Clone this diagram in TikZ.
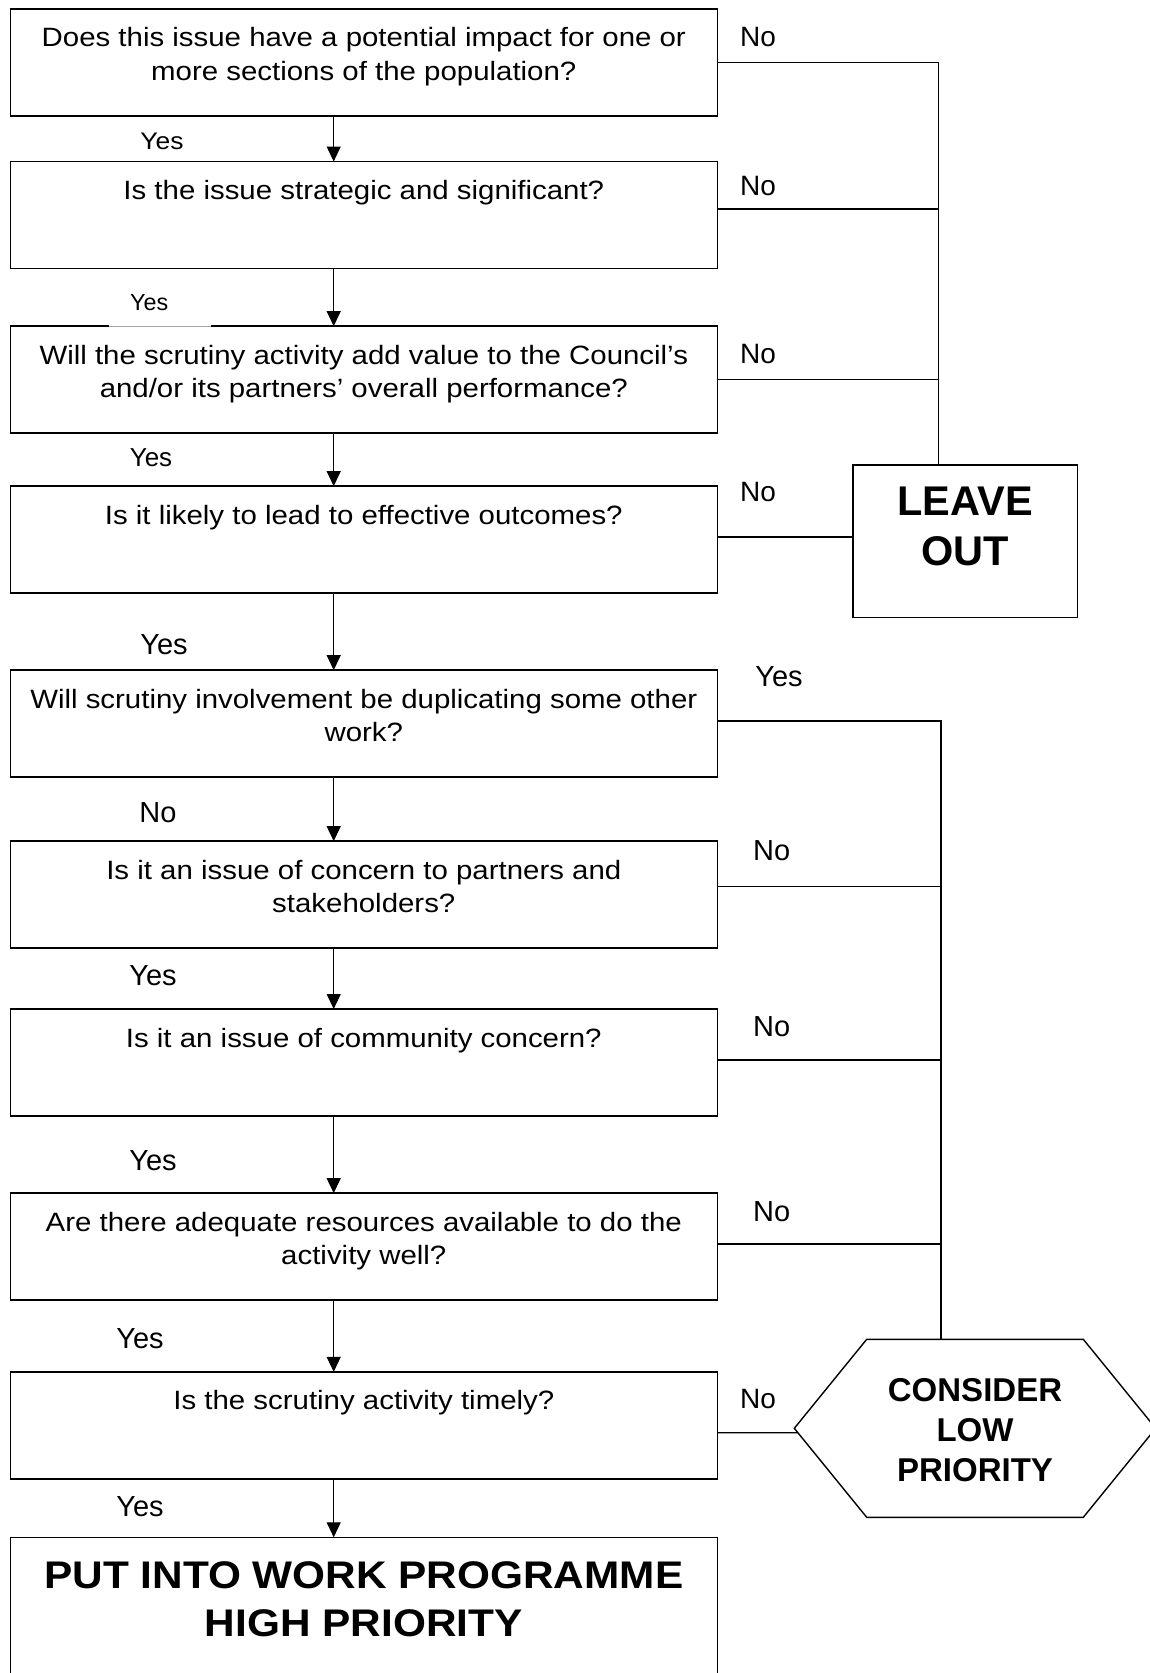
\documentclass[tikz,border=0pt]{standalone}
\usepackage{fontspec}
\setmainfont{Liberation Sans}
\newfontfamily\bodyfont[FakeStretch=1.11]{Liberation Sans}
\newfontfamily\wideboldfont[FakeStretch=1.1]{Liberation Sans}
\newfontfamily\ylabfont[FakeStretch=1.1]{Liberation Sans}
\usetikzlibrary{arrows.meta}
\newcommand\qtext[1]{\parbox[c][107pt][t]{707pt}{\centering\bodyfont\fontsize{26.5}{33.5}\selectfont\rule{0pt}{38pt}#1}}
\tikzset{
  qbox/.style={draw, line width=1.6pt, inner sep=0pt, outer sep=0pt},
  conn/.style={line width=1.2pt},
  arr/.style={line width=1.1pt, -{Triangle[width=14pt,length=15pt]}},
  lbl/.style={anchor=base, inner sep=0pt, font=\fontsize{29}{34}\selectfont},
  lblno/.style={anchor=base, inner sep=0pt, font=\fontsize{28}{34}\selectfont},
}
\begin{document}
\begin{tikzpicture}[x=1pt,y=-1pt]
\useasboundingbox (0,0) rectangle (1150,1673);
\fill[white] (0,0) rectangle (1150,1673);
\clip (0,0) rectangle (1150,1673);

% question boxes
\node[qbox] (box1) at (363.8,62.35) {\qtext{Does this issue have a potential impact for one or\\ more sections of the population?}};
\node[qbox] (box2) at (363.8,215) {\qtext{Is the issue strategic and significant?}};
\node[qbox] (box3) at (363.8,379.65) {\qtext{Will the scrutiny activity add value to the Council’s\\ and/or its partners’ overall performance?}};
\node[qbox] (box4) at (363.8,539.65) {\qtext{Is it likely to lead to effective outcomes?}};
\node[qbox] (box5) at (363.8,723.65) {\qtext{Will scrutiny involvement be duplicating some other\\ work?}};
\node[qbox] (box6) at (363.8,894.65) {\qtext{Is it an issue of concern to partners and\\ stakeholders?}};
\node[qbox] (box7) at (363.8,1062.5) {\qtext{Is it an issue of community concern?}};
\node[qbox] (box8) at (363.8,1246.65) {\qtext{Are there adequate resources available to do the\\ activity well?}};
\node[qbox] (box9) at (363.8,1425.35) {\qtext{Is the scrutiny activity timely?}};

% final box
\node[qbox] (final) at (363.8,1617.3) {\parbox[c][160pt][t]{707pt}{\centering\wideboldfont\bfseries\fontsize{38.5}{48.7}\selectfont\rule{0pt}{50.7pt}PUT INTO WORK PROGRAMME\\HIGH PRIORITY}};

% leave out
\node[qbox] (leave) at (965.2,541) {\parbox[c][152.6pt][t]{224.4pt}{\centering\bfseries\fontsize{41.5}{50}\selectfont\rule{0pt}{50.3pt}LEAVE\\OUT}};

% consider low priority (hexagon)
\node[inner sep=0pt, outer sep=0pt] (hex) at (975,1428.3) {\parbox[c][178pt][t]{361.4pt}{\centering\bfseries\fontsize{33}{40}\selectfont\rule{0pt}{62.4pt}CONSIDER\\LOW\\PRIORITY}};
\draw[line width=1.4pt, line join=miter] (hex.west) -- ([xshift=72.4pt]hex.north west) -- ([xshift=-72.4pt]hex.north east) -- (hex.east) -- ([xshift=-72.4pt]hex.south east) -- ([xshift=72.4pt]hex.south west) -- cycle;

% trunk coordinates
\coordinate (tr1) at (938.5,0);
\coordinate (tr2) at (941,0);
\coordinate (ax) at (333.7,0);

% down arrows
\draw[arr] (box1.south -| ax) -- (box2.north -| ax);
\draw[arr] (box2.south -| ax) -- (box3.north -| ax);
\draw[arr] (box3.south -| ax) -- (box4.north -| ax);
\draw[arr] (box4.south -| ax) -- (box5.north -| ax);
\draw[arr] (box5.south -| ax) -- (box6.north -| ax);
\draw[arr] (box6.south -| ax) -- (box7.north -| ax);
\draw[arr] (box7.south -| ax) -- (box8.north -| ax);
\draw[arr] (box8.south -| ax) -- (box9.north -| ax);
\draw[arr] (box9.south -| ax) -- (final.north -| ax);

% upper "No" branches to LEAVE OUT
\draw[conn] (box1.east) -- (box1.east -| tr1) -- (leave.north -| tr1);
\draw[conn] ([yshift=6pt]box2.east) -- ([yshift=6pt]box2.east -| tr1);
\draw[conn] (box3.east) -- (box3.east -| tr1);
\draw[conn] ([yshift=2.6pt]box4.east) -- ([yshift=2.6pt]box4.east -| leave.west);

% lower branches to CONSIDER LOW PRIORITY
\draw[conn] ([yshift=2.65pt]box5.east) -- ([yshift=2.65pt]box5.east -| tr2) -- (hex.north -| tr2);
\draw[conn] ([yshift=8.35pt]box6.east) -- ([yshift=8.35pt]box6.east -| tr2);
\draw[conn] ([yshift=2.5pt]box7.east) -- ([yshift=2.5pt]box7.east -| tr2);
\draw[conn] ([yshift=2.65pt]box8.east) -- ([yshift=2.65pt]box8.east -| tr2);
\draw[conn] ([yshift=-7.35pt]box9.east) -- ([xshift=3.6pt,yshift=-4.4pt]hex.west);

% gap in box3 top edge under the "Yes" label
\fill[white] (109,324.3) rectangle (211,327.7);
\draw[gray!70, line width=0.6pt] (109,326) -- (211,326);

% labels on the right
\node[lblno] (n1) at (758,46.7) {No};
\node[lblno] (n2) at (758,195) {No};
\node[lblno] (n3) at (758,363.3) {No};
\node[lblno] (n4) at (758,501.7) {No};
\node[lbl] (y5r) at (779,686.7) {Yes};
\node[lbl] (n6) at (771.6,860) {No};
\node[lbl] (n7) at (771.6,1036.7) {No};
\node[lbl] (n8) at (771.6,1221.7) {No};
\node[lblno] (n9) at (758,1408.3) {No};

% labels on the arrows
\node[anchor=base, inner sep=0pt, font=\ylabfont\fontsize{24}{30}\selectfont] (y1) at (162,149) {Yes};
\node[anchor=base, inner sep=0pt, font=\fontsize{23.3}{30}\selectfont] (y2) at (149.2,310) {Yes};
\node[anchor=base, inner sep=0pt, font=\fontsize{26}{30}\selectfont] (y3) at (151,466.7) {Yes};
\node[lbl] (y4) at (164,654) {Yes};
\node[lbl] (n5) at (158,822.7) {No};
\node[lbl] (y6) at (153,985) {Yes};
\node[lbl] (y7) at (153,1170) {Yes};
\node[lbl] (y8) at (140,1348.3) {Yes};
\node[lbl] (y9) at (140,1516.7) {Yes};
\end{tikzpicture}
\end{document}
